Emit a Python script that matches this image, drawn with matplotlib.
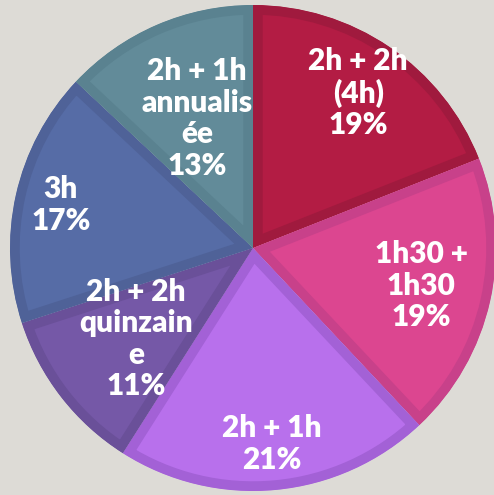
import matplotlib.pyplot as plt
import numpy as np

labels = ['2h + 2h\n(4h)', '1h30 +\n1h30', '2h + 1h', '2h + 2h\nquinzain\ne', '3h', '2h + 1h\nannualis\née']
values = [19, 19, 21, 11, 17, 13]
fills = ['#b31c44', '#dc4690', '#b870ec', '#7558a7', '#566ca6', '#628b99']
edges = ['#a01a3e', '#c8418a', '#a361d6', '#6a5099', '#4f6298', '#5a8290']
label_dist = [0.77, 0.71, 0.81, 0.61, 0.81, 0.58]

plt.rcParams['font.family'] = ['Lato', 'DejaVu Sans']

fig = plt.figure(figsize=(4.94, 4.95), dpi=100)
fig.patch.set_facecolor('#dddbd6')
ax = fig.add_axes([0, 0, 1, 1])

cx, cy, R = 253, 247, 243
wedges, _ = ax.pie(values, colors=fills, startangle=90, counterclock=False,
                   center=(cx, cy), radius=R)
# darker inner rim, like a bevel
for w, ec in zip(wedges, edges):
    w.set_edgecolor(ec)
    w.set_linewidth(14)
    w.set_clip_on(True)
    w.set_clip_path(w)

ax.set_aspect('auto')
ax.set_autoscale_on(False)
ax.set_xlim(0, 494)
ax.set_ylim(0, 495)
ax.axis('off')

# labels
for w, lab, v, d in zip(wedges, labels, values, label_dist):
    ang = np.deg2rad((w.theta1 + w.theta2) / 2)
    x = cx + d * R * np.cos(ang)
    y = cy + d * R * np.sin(ang)
    ax.text(x, y, lab + '\n' + str(v) + '%', ha='center', va='center',
            color='white', fontsize=21.5, fontweight='heavy', linespacing=1.15)

plt.savefig('out.png', dpi=100, facecolor=fig.get_facecolor())
